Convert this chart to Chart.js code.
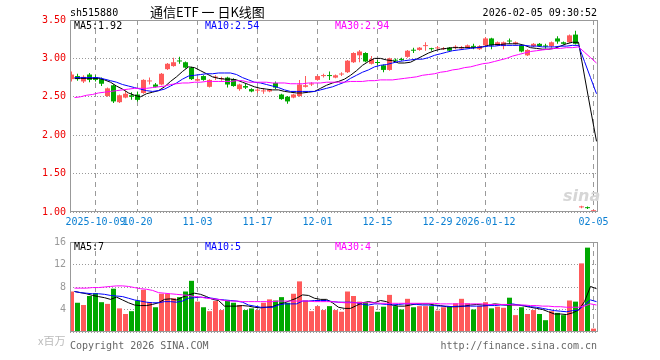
<!DOCTYPE html>
<html><head><meta charset="utf-8">
<script src="https://cdn.jsdelivr.net/npm/chart.js@4"></script>
<style>
html,body{margin:0;padding:0;background:#fff;}
body{width:660px;height:360px;position:relative;overflow:hidden;font-family:"DejaVu Sans Mono",monospace;font-size:10px;}
.t{position:absolute;white-space:nowrap;line-height:12px;}
canvas{position:absolute;left:0;}
</style></head><body>
<canvas id="k" width="660" height="232" style="top:0;width:660px;height:232px"></canvas>
<canvas id="v" width="660" height="110" style="top:232px;width:660px;height:110px"></canvas>
<div class="t" style="left:70px;top:7px;color:#000">sh515880</div>
<div class="t" style="left:150px;top:4px;line-height:16px;font-family:'Noto Sans CJK SC';font-size:13px;color:#000">通信ETF 一 日K线图</div>
<div class="t" style="right:63px;top:7px;color:#000">2026-02-05 09:30:52</div>
<div class="t" id="l5" style="left:74px;top:20px;color:#000"></div>
<div class="t" id="l10" style="left:205px;top:20px;color:#0000ff"></div>
<div class="t" id="l30" style="left:335px;top:20px;color:#ff00ff"></div>
<div class="t" id="v5" style="left:74px;top:241px;color:#000"></div>
<div class="t" id="v10" style="left:205px;top:241px;color:#0000ff"></div>
<div class="t" id="v30" style="left:335px;top:241px;color:#ff00ff"></div>
<div class="t" style="left:563px;top:186px;font-family:'DejaVu Sans';font-style:italic;font-weight:bold;font-size:16px;line-height:20px;color:#d6d6d6">sina</div>
<div class="t" style="left:38px;top:333px;font-family:'Noto Sans CJK SC';font-size:11px;line-height:14px;color:#bbb">x百万</div>
<div class="t" style="left:70px;top:340px;color:#666">Copyright 2026 SINA.COM</div>
<div class="t" style="right:63px;top:340px;color:#666">http://finance.sina.com.cn</div>
<script>
const dates = [
'2025-09-25','2025-09-26','2025-09-29','2025-09-30','2025-10-09','2025-10-10','2025-10-13','2025-10-14','2025-10-15','2025-10-16',
'2025-10-17','2025-10-20','2025-10-21','2025-10-22','2025-10-23','2025-10-24','2025-10-27','2025-10-28','2025-10-29','2025-10-30',
'2025-10-31','2025-11-03','2025-11-04','2025-11-05','2025-11-06','2025-11-07','2025-11-10','2025-11-11','2025-11-12','2025-11-13',
'2025-11-14','2025-11-17','2025-11-18','2025-11-19','2025-11-20','2025-11-21','2025-11-24','2025-11-25','2025-11-26','2025-11-27',
'2025-11-28','2025-12-01','2025-12-02','2025-12-03','2025-12-04','2025-12-05','2025-12-08','2025-12-09','2025-12-10','2025-12-11',
'2025-12-12','2025-12-15','2025-12-16','2025-12-17','2025-12-18','2025-12-19','2025-12-22','2025-12-23','2025-12-24','2025-12-25',
'2025-12-26','2025-12-29','2025-12-30','2025-12-31','2026-01-05','2026-01-06','2026-01-07','2026-01-08','2026-01-09','2026-01-12',
'2026-01-13','2026-01-14','2026-01-15','2026-01-16','2026-01-19','2026-01-20','2026-01-21','2026-01-22','2026-01-23','2026-01-26',
'2026-01-27','2026-01-28','2026-01-29','2026-01-30','2026-02-02','2026-02-03','2026-02-04','2026-02-05'];

const openP = [
2.73,2.77,2.70,2.79,2.75,2.73,2.51,2.65,2.43,2.49,
2.52,2.53,2.55,2.70,2.66,2.66,2.86,2.90,2.97,2.95,
2.88,2.71,2.77,2.63,2.75,2.73,2.75,2.73,2.60,2.64,
2.60,2.58,2.57,2.57,2.68,2.53,2.50,2.49,2.51,2.63,
2.66,2.72,2.77,2.78,2.75,2.79,2.82,2.95,3.04,3.07,
2.93,2.95,2.91,2.85,2.98,2.99,3.02,3.11,3.11,3.16,
3.13,3.13,3.12,3.14,3.14,3.13,3.145,3.16,3.12,3.17,
3.26,3.17,3.16,3.23,3.19,3.17,3.04,3.16,3.19,3.16,
3.16,3.26,3.21,3.21,3.31,1.06,1.06,1.01];

const highP = [
2.83,2.80,2.78,2.81,2.78,2.75,2.62,2.66,2.53,2.58,
2.56,2.57,2.73,2.75,2.68,2.81,2.94,3.01,3.02,2.96,
2.89,2.75,2.78,2.73,2.78,2.76,2.76,2.74,2.67,2.67,
2.61,2.61,2.61,2.60,2.70,2.54,2.51,2.54,2.72,2.77,
2.69,2.78,2.80,2.83,2.79,2.82,2.98,3.08,3.11,3.08,
3.03,2.98,2.92,3.01,3.00,3.01,3.11,3.14,3.15,3.21,
3.14,3.16,3.15,3.15,3.17,3.16,3.18,3.19,3.17,3.28,
3.27,3.22,3.22,3.26,3.22,3.18,3.12,3.20,3.20,3.19,
3.22,3.29,3.22,3.31,3.36,1.08,1.07,1.03];

const lowP = [
2.70,2.71,2.68,2.69,2.70,2.64,2.50,2.42,2.42,2.48,
2.46,2.44,2.54,2.66,2.62,2.65,2.85,2.89,2.93,2.87,
2.72,2.70,2.71,2.62,2.72,2.71,2.62,2.63,2.58,2.60,
2.56,2.55,2.54,2.56,2.60,2.46,2.41,2.48,2.50,2.62,
2.64,2.71,2.75,2.72,2.74,2.77,2.81,2.94,2.95,2.95,
2.92,2.91,2.82,2.84,2.96,2.97,3.01,3.07,3.10,3.10,
3.10,3.12,3.11,3.09,3.12,3.12,3.14,3.12,3.11,3.16,
3.12,3.16,3.12,3.19,3.18,3.08,3.03,3.15,3.15,3.13,
3.14,3.19,3.18,3.20,3.18,1.05,1.04,1.00];

const closeP = [
2.79,2.73,2.76,2.72,2.72,2.67,2.61,2.44,2.52,2.54,
2.50,2.46,2.72,2.71,2.63,2.80,2.93,2.95,2.96,2.88,
2.73,2.73,2.72,2.72,2.76,2.74,2.66,2.64,2.66,2.62,
2.57,2.59,2.58,2.59,2.62,2.47,2.44,2.53,2.66,2.65,
2.67,2.77,2.78,2.77,2.78,2.80,2.97,3.07,3.09,2.96,
2.99,2.94,2.85,3.00,2.97,2.98,3.10,3.10,3.14,3.17,
3.12,3.14,3.13,3.10,3.15,3.14,3.17,3.15,3.16,3.26,
3.17,3.21,3.21,3.22,3.21,3.09,3.11,3.19,3.16,3.155,
3.21,3.22,3.19,3.30,3.19,1.07,1.05,1.015];

const ma5 = [
2.74,2.74,2.74,2.74,2.74,2.72,2.69,2.64,2.60,2.55,
2.52,2.50,2.54,2.56,2.58,2.63,2.70,2.76,2.83,2.89,
2.88,2.84,2.80,2.76,2.74,2.73,2.73,2.72,2.69,2.66,
2.63,2.61,2.60,2.59,2.59,2.57,2.56,2.55,2.55,2.56,
2.57,2.61,2.65,2.68,2.70,2.73,2.78,2.84,2.91,2.96,
3.00,3.00,2.98,2.97,2.94,2.94,2.95,2.99,3.03,3.07,
3.10,3.12,3.13,3.14,3.14,3.14,3.14,3.14,3.15,3.17,
3.18,3.18,3.19,3.19,3.19,3.17,3.14,3.13,3.12,3.12,
3.13,3.16,3.19,3.21,3.21,2.77,2.34,1.92];

const ma10 = [
2.75,2.75,2.75,2.75,2.75,2.73,2.71,2.69,2.66,2.64,
2.62,2.60,2.58,2.57,2.58,2.60,2.64,2.68,2.73,2.77,
2.78,2.79,2.80,2.80,2.81,2.81,2.81,2.79,2.75,2.72,
2.69,2.68,2.66,2.64,2.62,2.59,2.57,2.57,2.57,2.57,
2.57,2.59,2.61,2.63,2.66,2.69,2.74,2.78,2.82,2.85,
2.89,2.91,2.92,2.94,2.96,2.97,2.98,2.99,2.99,3.01,
3.04,3.06,3.08,3.10,3.11,3.12,3.13,3.14,3.15,3.16,
3.16,3.17,3.17,3.17,3.17,3.17,3.16,3.16,3.15,3.15,
3.15,3.16,3.16,3.17,3.17,2.96,2.75,2.54];

const ma30 = [
2.49,2.50,2.52,2.53,2.55,2.56,2.57,2.58,2.59,2.60,
2.61,2.61,2.61,2.62,2.63,2.64,2.66,2.67,2.68,2.68,
2.69,2.69,2.70,2.70,2.70,2.70,2.70,2.71,2.71,2.69,
2.69,2.69,2.69,2.68,2.68,2.68,2.67,2.67,2.67,2.68,
2.68,2.68,2.69,2.69,2.69,2.69,2.70,2.70,2.70,2.71,
2.71,2.72,2.72,2.72,2.73,2.74,2.75,2.76,2.78,2.79,
2.80,2.82,2.83,2.85,2.86,2.88,2.89,2.91,2.93,2.94,
2.96,2.98,3.00,3.03,3.05,3.07,3.09,3.10,3.11,3.12,
3.13,3.13,3.14,3.14,3.15,3.08,3.01,2.94];

const volume = [
7.2,5.2,4.8,6.4,6.9,5.3,5.0,7.7,4.2,3.2,
3.7,5.6,7.5,5.3,4.4,6.8,6.8,6.0,6.2,7.2,
9.1,5.4,4.4,3.7,5.5,3.9,5.6,5.2,4.8,3.9,
4.2,3.9,5.2,5.8,5.6,6.2,5.2,6.8,9.0,5.6,
3.7,4.6,3.9,4.6,3.9,3.6,7.2,6.4,5.4,5.3,
4.6,3.6,4.5,6.6,4.6,4.0,5.9,4.4,4.6,4.6,
4.6,3.8,4.4,4.5,5.1,5.9,5.1,4.0,4.6,5.3,
4.2,4.5,4.3,6.1,3.0,4.4,3.2,3.9,3.2,2.1,
3.7,3.4,3.0,5.6,5.4,12.2,15.0,0.6];

const volMa5 = [
7.2,7.0,6.8,6.5,6.3,6.1,5.8,6.2,5.7,5.2,
4.8,4.7,4.7,4.9,5.2,5.8,5.9,5.7,6.2,6.6,
6.9,6.7,6.3,5.8,5.6,4.6,4.6,4.6,4.7,4.6,
4.4,4.3,4.4,4.5,4.9,5.2,5.6,6.0,6.6,6.5,
6.0,5.8,5.8,5.2,4.4,4.2,4.2,4.7,5.2,5.4,
5.2,5.6,5.4,4.8,4.6,4.6,4.8,5.0,5.0,5.0,
4.8,4.7,4.5,4.5,4.5,4.6,4.8,4.9,4.8,4.8,
5.0,4.9,4.8,4.8,4.8,4.6,4.4,4.2,4.0,3.6,
3.2,3.2,3.1,3.4,3.9,5.4,8.1,7.7];

const volMa10 = [
7.2,7.0,6.9,6.8,6.8,6.7,6.5,6.4,6.3,6.0,
5.7,5.5,5.3,5.2,5.2,5.4,5.4,5.3,5.5,6.0,
6.1,6.2,6.1,6.0,5.8,5.7,5.6,5.5,5.3,4.8,
4.6,4.4,4.4,4.4,4.8,5.0,5.0,5.0,5.5,5.5,
5.6,5.6,5.6,5.4,5.3,5.3,5.3,5.2,4.9,4.8,
5.0,5.0,4.9,4.8,4.9,5.0,5.0,4.9,4.8,4.8,
4.7,4.6,4.6,4.5,4.6,4.6,4.6,4.6,4.6,4.7,
4.7,4.8,4.8,5.0,4.8,4.7,4.5,4.4,4.2,4.0,
3.8,3.7,3.6,3.8,3.9,4.8,5.7,5.4];

const volMa30 = [
7.8,7.8,7.8,7.9,7.9,8.0,8.1,8.2,8.2,8.1,
7.9,7.7,7.6,7.4,7.0,6.9,6.8,6.7,6.6,6.5,
6.3,6.2,6.0,5.9,5.8,5.6,5.5,5.5,5.4,5.4,
5.4,5.4,5.4,5.4,5.5,5.5,5.5,5.5,5.5,5.5,
5.4,5.4,5.4,5.4,5.3,5.2,5.2,5.2,5.2,5.2,
5.2,5.1,5.1,5.1,5.1,5.1,5.1,5.1,5.1,5.1,
5.1,5.0,5.0,5.0,5.0,5.0,5.0,5.0,5.0,4.9,
4.9,4.9,4.9,4.8,4.8,4.8,4.7,4.7,4.6,4.6,
4.5,4.5,4.4,4.4,4.4,4.6,5.0,4.8];

const tickDates = ['2025-10-09','2025-10-20','2025-11-03','2025-11-17','2025-12-01','2025-12-15','2025-12-29','2026-01-12','2026-02-05'];
const tickLabels = ['2025-10-09','10-20','11-03','11-17','12-01','12-15','12-29','2026-01-12','02-05'];
const priceTicks = [1.00,1.50,2.00,2.50,3.00,3.50];
const volTicks = [0,4,8,12,16];

const UP = '#ff5a5a', DOWN = '#00a800';
const idx = dates.map((d,i)=>i);
const col = idx.map(i => closeP[i] >= openP[i] ? UP : DOWN);
const tickIdx = tickDates.map(d => dates.indexOf(d));
const XMIN = -0.25, XMAX = dates.length - 0.25;
const FONT = {family:'DejaVu Sans Mono', size:10};

const frame = {id:'frame', afterDraw(c){
  const a=c.chartArea, x=c.ctx; x.save(); x.strokeStyle='#999'; x.lineWidth=1;
  x.strokeRect(Math.round(a.left)+0.5, Math.round(a.top)+0.5, Math.round(a.right-a.left)-1, Math.round(a.bottom-a.top)-1);
  x.restore();
}};

function xScale(showLabels, h){
  return {
    type:'linear', min:XMIN, max:XMAX, bounds:'data', offset:false,
    afterBuildTicks: s => { s.ticks = tickIdx.map(v => ({value:v})); },
    afterFit: s => { s.height = h; },
    ticks:{display:showLabels, autoSkip:false, maxRotation:0, minRotation:0, padding:4, color:'#0a7fd2', font:FONT,
      callback:(v)=>{ const k=tickIdx.indexOf(v); return k<0?'':tickLabels[k]; }},
    grid:{offset:false, color:'#9a9a9a', drawTicks:false, lineWidth:1},
    border:{display:false, dash:[5,4]}
  };
}
function line(data, color){
  return {type:'line', data: idx.map(i => ({x:i+0.5, y:data[i]})), borderColor:color, borderWidth:1,
    pointRadius:0, tension:0, fill:false, order:1};
}

new Chart(document.getElementById('k'), {
  type:'bar',
  data:{datasets:[
    {type:'bar', data: idx.map(i => ({x:i, y:[lowP[i], highP[i]]})), backgroundColor:col, barThickness:1, grouped:false, minBarLength:1, inflateAmount:0, order:3},
    {type:'bar', data: idx.map(i => ({x:i, y:[openP[i], closeP[i]]})), backgroundColor:col, barThickness:5, grouped:false, minBarLength:1, inflateAmount:0, order:2},
    line(ma30,'#ff00ff'), line(ma10,'#0000ff'), line(ma5,'#000000')
  ]},
  options:{
    responsive:false, animation:false, devicePixelRatio:1,
    layout:{padding:{left:0, right:62, top:20, bottom:0}},
    plugins:{legend:{display:false}, tooltip:{enabled:false}},
    scales:{
      x: xScale(true, 20),
      y:{min:1, max:3.5, bounds:'data',
        afterBuildTicks: s => { s.ticks = priceTicks.map(v => ({value:v})); },
        afterFit: s => { s.width = 70; },
        ticks:{padding:4, color:'#ee0000', font:FONT, callback:v => Number(v).toFixed(2)},
        grid:{color:'#999', drawTicks:false},
        border:{display:false, dash:[1,2]}}
    }
  },
  plugins:[frame]
});

new Chart(document.getElementById('v'), {
  type:'bar',
  data:{datasets:[
    {type:'bar', data: idx.map(i => ({x:i, y:volume[i]})), backgroundColor:col, barThickness:5, grouped:false, inflateAmount:0, order:2},
    line(volMa30,'#ff00ff'), line(volMa10,'#0000ff'), line(volMa5,'#000000')
  ]},
  options:{
    responsive:false, animation:false, devicePixelRatio:1,
    layout:{padding:{left:0, right:62, top:8, bottom:1}},
    plugins:{legend:{display:false}, tooltip:{enabled:false}},
    scales:{
      x: xScale(false, 0),
      y:{min:0, max:16, bounds:'data',
        afterBuildTicks: s => { s.ticks = volTicks.map(v => ({value:v})); },
        afterFit: s => { s.width = 70; },
        ticks:{padding:4, color:'#999', font:FONT, callback:v => v===0 ? '' : String(v)},
        grid:{color:'#999', drawTicks:false},
        border:{display:false, dash:[1,2]}}
    }
  },
  plugins:[frame]
});

const last = a => a[a.length-1];
document.getElementById('l5').textContent = 'MA5:' + last(ma5).toFixed(2);
document.getElementById('l10').textContent = 'MA10:' + last(ma10).toFixed(2);
document.getElementById('l30').textContent = 'MA30:' + last(ma30).toFixed(2);
document.getElementById('v5').textContent = 'MA5:' + Math.floor(last(volMa5));
document.getElementById('v10').textContent = 'MA10:' + Math.floor(last(volMa10));
document.getElementById('v30').textContent = 'MA30:' + Math.floor(last(volMa30));
</script>
</body></html>
